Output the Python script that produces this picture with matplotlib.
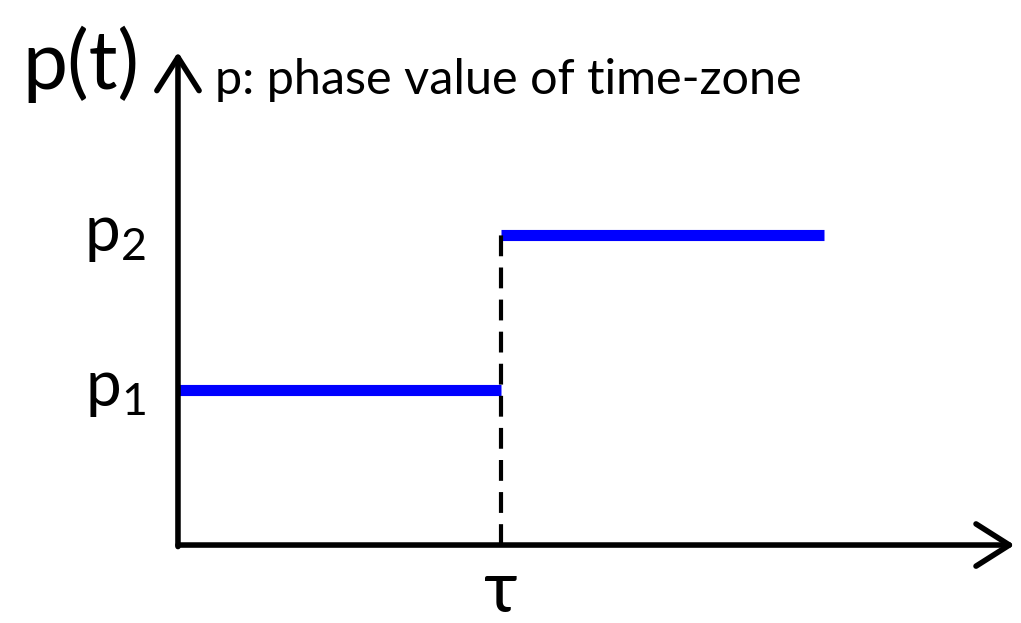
import matplotlib.pyplot as plt

# step function: phase value before / after the switch time tau
t_steps = [0.0, 1.0, 2.0]
p_levels = [1.0, 2.0]
tau = 1.0
tick_labels = ["$\\mathregular{p_1}$", "$\\mathregular{p_2}$"]

plt.rcParams["font.family"] = ["Lato", "DejaVu Sans"]

fig = plt.figure(figsize=(10.21, 6.23), dpi=100)
ax = fig.add_axes([0, 0, 1, 1])
ax.set_xlim(-0.551, 2.610)
ax.set_ylim(-0.503, 3.516)
ax.axis("off")

# axes with open arrow heads
arrow = dict(arrowstyle="->,head_length=0.6,head_width=0.38", lw=4,
             color="black", capstyle="round", joinstyle="round",
             shrinkA=0, shrinkB=0)
ax.annotate("", xy=(2.59, 0), xytext=(0, 0), arrowprops=arrow, size=40)
ax.annotate("", xy=(0, 3.18), xytext=(0, -0.01), arrowprops=arrow, size=40)

# blue levels
for i, p in enumerate(p_levels):
    ax.plot([t_steps[i], t_steps[i + 1]], [p, p], color="#0000ff", lw=8,
            solid_capstyle="butt")

# dashed jump at tau
ax.plot([tau, tau], [0, p_levels[1]], color="black", lw=3,
        linestyle=(0, (5, 2.7)))

for p, lab in zip(p_levels, tick_labels):
    ax.text(-0.1, p, lab, fontsize=46, ha="right", va="center")

ax.text(tau, -0.3, "τ", fontsize=52, ha="center", va="center")
ax.text(-0.12, 3.1, "p(t)", fontsize=58, ha="right", va="center")
ax.text(0.115, 3.0, "p: phase value of time-zone", fontsize=35,
        ha="left", va="center")

fig.savefig("out.png", dpi=100)
